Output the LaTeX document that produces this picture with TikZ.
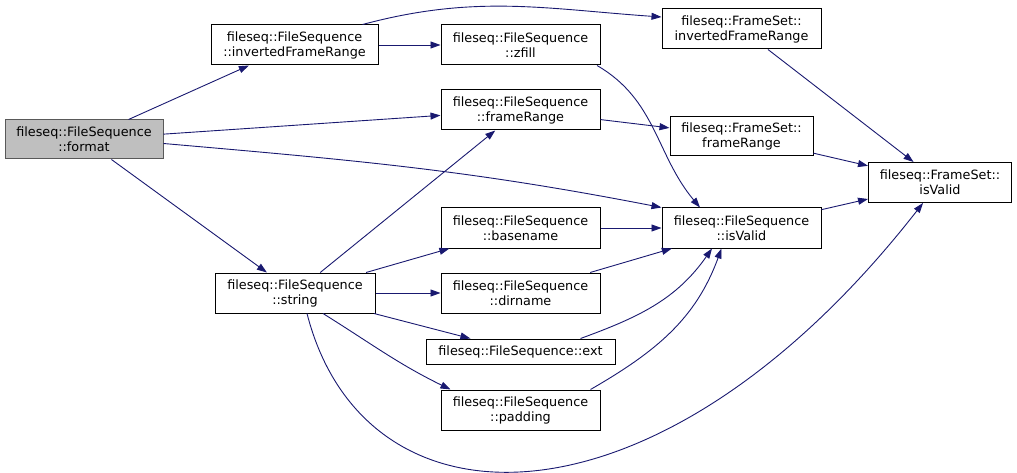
\documentclass[tikz,border=0pt]{standalone}
\usepackage{fontspec}
\setmainfont{DejaVu Sans}
\usetikzlibrary{arrows.meta}
\definecolor{edgeblue}{HTML}{191970}
\definecolor{fmtgray}{HTML}{BFBFBF}

\begin{document}
\begin{tikzpicture}[x=1pt, y=-1pt,
    box/.style={draw=black, fill=white, line width=1pt, align=center, inner sep=0pt,
        minimum width=159pt, minimum height=40pt, font=\fontsize{12.8}{15}\selectfont},
    call/.style={draw=edgeblue, line width=0.9pt, -{Triangle[length=10pt, width=7pt]}}]
    \useasboundingbox (0,0) rectangle (1017,473);
    \node[box, fill=fmtgray, draw=black!65, minimum width=158pt, minimum height=39pt] (A) at (84,139.5) {fileseq::FileSequence\\::format};
    \node[box, minimum width=167pt] (B) at (294.5,45) {fileseq::FileSequence\\::invertedFrameRange};
    \node[box] (C) at (520.5,45) {fileseq::FileSequence\\::zfill};
    \node[box] (D) at (741.5,29) {fileseq::FrameSet::\\invertedFrameRange};
    \node[box] (E) at (520.5,110) {fileseq::FileSequence\\::frameRange};
    \node[box, minimum width=143pt, minimum height=39pt] (F) at (741.5,136.5) {fileseq::FrameSet::\\frameRange};
    \node[box, minimum width=143pt] (G) at (940,182.5) {fileseq::FrameSet::\\isValid};
    \node[box] (H) at (741.5,228) {fileseq::FileSequence\\::isValid};
    \node[box] (I) at (520.5,228) {fileseq::FileSequence\\::basename};
    \node[box, minimum width=160pt] (J) at (295,293) {fileseq::FileSequence\\::string};
    \node[box] (K) at (520.5,293) {fileseq::FileSequence\\::dirname};
    \node[box, minimum width=189pt, minimum height=25pt] (L) at (520.5,351.5) {fileseq::FileSequence::ext};
    \node[box] (M) at (520.5,410) {fileseq::FileSequence\\::padding};
    \draw[call] (A) to (B);
    \draw[call] (A) to (E);
    \draw[call] ([yshift=-4pt]A.east) to[out=-5, in=169] (H.north west);
    \draw[call] (A) to (J);
    \draw[call] (B) to (C);
    \draw[call] ([xshift=68pt]B.north) to[out=15, in=176] ([yshift=12pt]D.west);
    \draw[call] ([xshift=76.5pt]C.south) to[out=-30, in=130] ([xshift=-41.5pt]H.north);
    \draw[call] (E) to (F);
    \draw[call] (D) to (G);
    \draw[call] (F) to (G);
    \draw[call] (H) to (G);
    \draw[call] (J) to (E);
    \draw[call] (J) to (I);
    \draw[call] (J) to (K);
    \draw[call] (J) to (L);
    \draw[call] ([xshift=28pt]J.south) to[out=-32, in=154] ([xshift=-70pt]M.north);
    \draw[call] ([xshift=12pt]J.south) .. controls (365,540) and (660,540) .. ([xshift=-17pt]G.south);
    \draw[call] (I) to (H);
    \draw[call] (K) to (H);
    \draw[call] ([xshift=60pt]L.north) to[out=20, in=-125] ([xshift=-29.5pt]H.south);
    \draw[call] ([xshift=70pt]M.north) to[out=30, in=-110] ([xshift=-20pt]H.south);
\end{tikzpicture}
\end{document}
